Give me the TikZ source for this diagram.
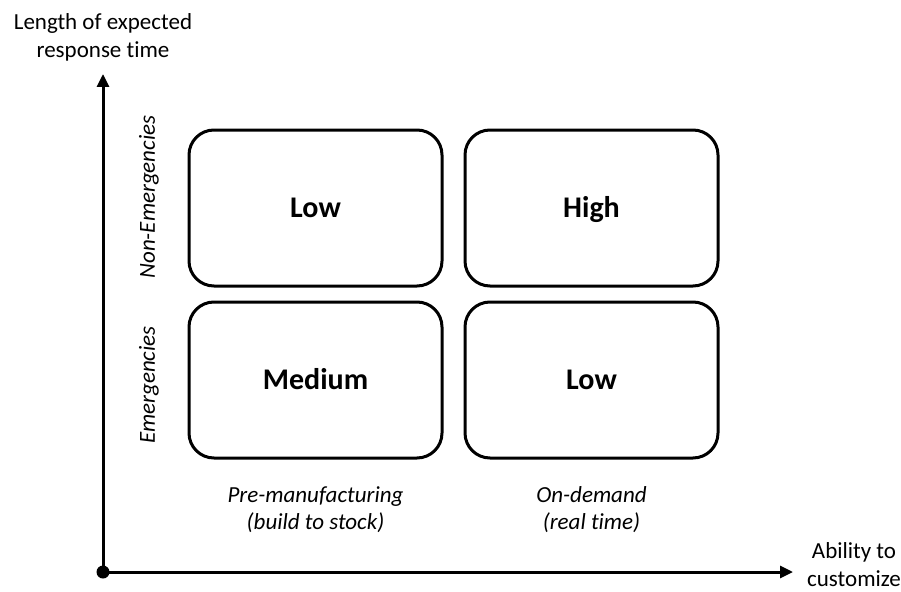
\documentclass[tikz,border=0pt]{standalone}
\usepackage{fontspec}
\setmainfont{Carlito}[Ligatures=NoCommon]
\usetikzlibrary{arrows.meta}
\begin{document}
\begin{tikzpicture}[x=1pt,y=-1pt,
  cell/.style={draw=black,line width=3pt,rounded corners=25pt,minimum width=253pt,minimum height=156pt,text height=19pt,text depth=0pt,font=\fontsize{30}{34}\selectfont\bfseries},
  lbl/.style={font=\fontsize{23}{27}\selectfont\itshape,align=center},
  axlbl/.style={font=\fontsize{23}{28}\selectfont,align=center},
  axis/.style={line width=3pt,-{Triangle[length=13pt,width=12pt]}}]
\useasboundingbox (0,0) rectangle (901,591);
\node[cell] (tl) at (315.5,208) {Low};
\node[cell] (tr) at (591.5,208) {High};
\node[cell] (bl) at (315.5,380) {Medium};
\node[cell] (br) at (591.5,380) {Low};
\coordinate (o) at (103,572);
\coordinate (ytop) at (103,74);
\coordinate (xend) at (793,572);
\fill (o) circle (6.5pt);
\draw[axis] (o) -- (ytop);
\draw[axis] (o) -- (xend);
\node[axlbl] (ylab) at (103,37) {Length of expected\\response time};
\node[axlbl] (xlab) at (854,565) {Ability to\\customize};
\node[lbl,rotate=90] (ne) at (149,197) {Non-Emergencies};
\node[lbl,rotate=90] (em) at (149,385) {Emergencies};
\node[lbl] (pm) at (315.5,510) {Pre-manufacturing\\(build to stock)};
\node[lbl] (od) at (591.5,510) {On-demand\\(real time)};
\end{tikzpicture}
\end{document}
